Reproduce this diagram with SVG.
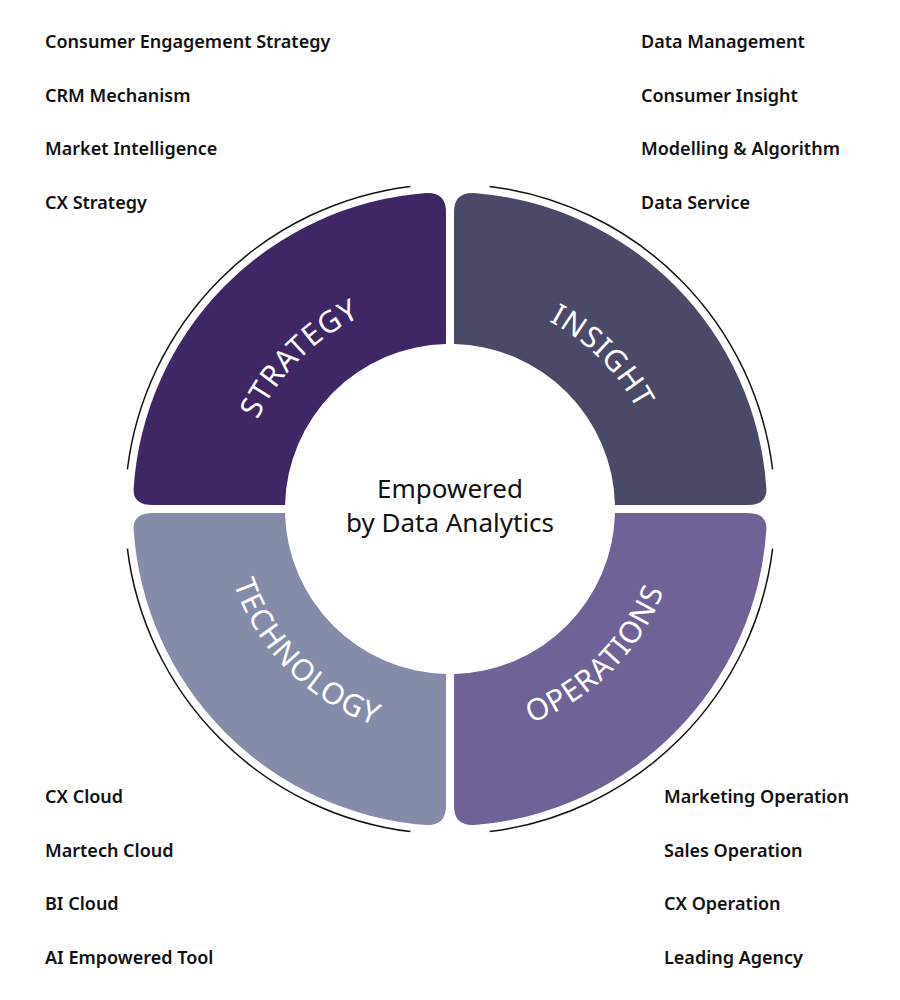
<svg xmlns="http://www.w3.org/2000/svg" xmlns:xlink="http://www.w3.org/1999/xlink" width="900" height="1000" viewBox="0 0 900 1000">
<style>
.item{font-family:"Noto Sans","Open Sans",sans-serif;font-size:18px;font-weight:600;fill:#111}
.lbl{font-family:"Noto Sans","Open Sans",sans-serif;font-size:30px;fill:#fff;letter-spacing:1px}
.ctr{font-family:"Noto Sans","Open Sans",sans-serif;font-size:26px;fill:#111}
.ring{fill:none;stroke:#111;stroke-width:1.5}
</style>
<defs>
<path id="pS" d="M238,509 A212,212 0 0 1 450,297"/>
<path id="pI" d="M450,297 A212,212 0 0 1 662,509"/>
<path id="pT" d="M221,509 A229,229 0 0 0 450,738"/>
<path id="pO" d="M450,738 A229,229 0 0 0 679,509"/>
</defs>
<rect width="900" height="1000" fill="#fff"/>
<g id="connectors">
<path class="ring" d="M127.4,469.4 A325,325 0 0 1 410.4,186.4"/>
<path class="ring" d="M489.6,186.4 A325,325 0 0 1 772.6,469.4"/>
<path class="ring" d="M772.6,548.6 A325,325 0 0 1 489.6,831.6"/>
<path class="ring" d="M410.4,831.6 A325,325 0 0 1 127.4,548.6"/>
</g>
<g id="strategy">
<path fill="#3f2766" d="M446,344 L446,212 Q446,192 426,193 A317,317 0 0 0 133.6,489 Q133,505 153,505 L285,505 A165,165 0 0 1 446,344 Z"/>
<text class="lbl"><textPath xlink:href="#pS" startOffset="50%" text-anchor="middle">STRATEGY</textPath></text>
</g>
<g id="insight">
<path fill="#4a4a68" d="M454,344 L454,212 Q454,192 474,193 A317,317 0 0 1 766.4,489 Q767,505 747,505 L615,505 A165,165 0 0 0 454,344 Z"/>
<text class="lbl"><textPath xlink:href="#pI" startOffset="50%" text-anchor="middle">INSIGHT</textPath></text>
</g>
<g id="technology">
<path fill="#858caa" d="M446,674 L446,806 Q446,826 426,825 A317,317 0 0 1 133.6,529 Q133,513 153,513 L285,513 A165,165 0 0 0 446,674 Z"/>
<text class="lbl"><textPath xlink:href="#pT" startOffset="50%" text-anchor="middle">TECHNOLOGY</textPath></text>
</g>
<g id="operations">
<path fill="#6f6296" d="M454,674 L454,806 Q454,826 474,825 A317,317 0 0 0 766.4,529 Q767,513 747,513 L615,513 A165,165 0 0 1 454,674 Z"/>
<text class="lbl"><textPath xlink:href="#pO" startOffset="50%" text-anchor="middle">OPERATIONS</textPath></text>
</g>
<g id="center">
<text class="ctr" x="450" y="498" text-anchor="middle">Empowered</text>
<text class="ctr" x="450" y="532" text-anchor="middle">by Data Analytics</text>
</g>
<g id="lists">
<text class="item" x="45" y="48">Consumer Engagement Strategy</text>
<text class="item" x="45" y="102">CRM Mechanism</text>
<text class="item" x="45" y="155">Market Intelligence</text>
<text class="item" x="45" y="209">CX Strategy</text>
<text class="item" x="641" y="48">Data Management</text>
<text class="item" x="641" y="102">Consumer Insight</text>
<text class="item" x="641" y="155">Modelling &amp; Algorithm</text>
<text class="item" x="641" y="209">Data Service</text>
<text class="item" x="45" y="803">CX Cloud</text>
<text class="item" x="45" y="857">Martech Cloud</text>
<text class="item" x="45" y="910">BI Cloud</text>
<text class="item" x="45" y="964">AI Empowered Tool</text>
<text class="item" x="664" y="803">Marketing Operation</text>
<text class="item" x="664" y="857">Sales Operation</text>
<text class="item" x="664" y="910">CX Operation</text>
<text class="item" x="664" y="964">Leading Agency</text>
</g>
</svg>
